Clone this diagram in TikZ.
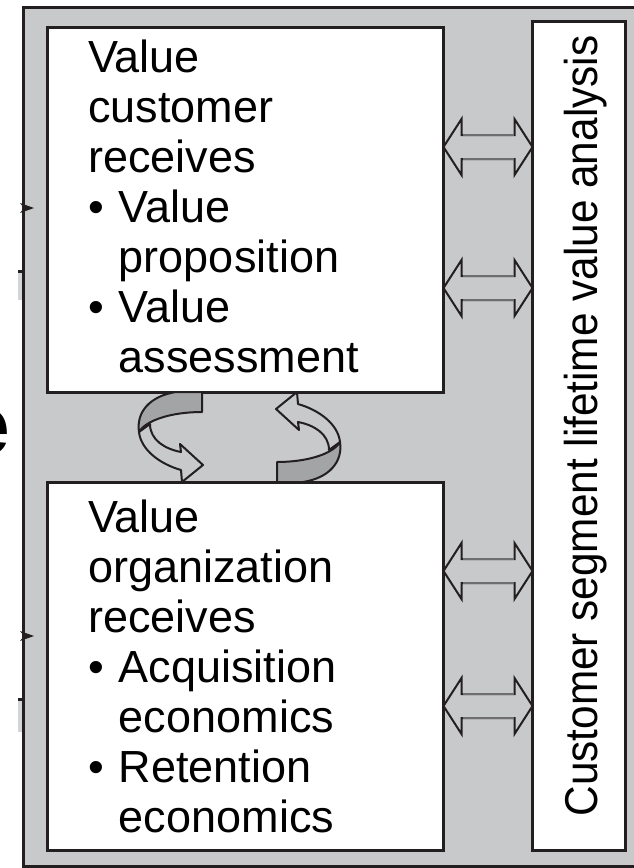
\documentclass[tikz,border=0pt]{standalone}
\usepackage{fontspec}
\setmainfont{Liberation Sans}
\usepackage{graphicx}
\usetikzlibrary{calc}
\definecolor{bg}{HTML}{C8C9CB}
\definecolor{ink}{HTML}{231F20}
\definecolor{ribbon}{HTML}{A3A4A6}
\definecolor{shaft}{HTML}{6E6E70}
\definecolor{frag}{HTML}{D4D5D7}
\newcommand{\hang}{\hphantom{•\ }}
\newcommand{\dblarrow}[3]{%
  \draw[arrowbody] let \p1=(#1.east), \p2=(#2.west), \p3=(0,#3) in
   (\x1,\y3) -- (\x1+18pt,\y3+28pt) -- (\x1+18pt,\y3+12pt) -- (\x2-18pt,\y3+12pt)
   -- (\x2-18pt,\y3+28pt) -- (\x2,\y3) -- (\x2-18pt,\y3-28pt) -- (\x2-18pt,\y3-12pt)
   -- (\x1+18pt,\y3-12pt) -- (\x1+18pt,\y3-28pt) -- cycle;
  \draw[shaftline] let \p1=(#1.east), \p2=(#2.west), \p3=(0,#3) in
   (\x1+19pt,\y3+12pt) -- (\x2-19pt,\y3+12pt)
   (\x1+19pt,\y3-12pt) -- (\x2-19pt,\y3-12pt);}
\newcommand{\cyclearrow}{%
  \draw[curlline, fill=bg] (139,432) .. controls (141,450) and (160,464) .. (181,470)
    -- (182,482) -- (203,465) -- (180,444) -- (181,452)
    .. controls (165,449) and (150,440) .. (150,424) -- cycle;
  \draw[curlline, fill=ribbon] (176,392) -- (202,392) -- (202,412)
    .. controls (172,412) and (146,420) .. (139,432)
    .. controls (136,412) and (150,396) .. (176,392) -- cycle;}
\begin{document}
\begin{tikzpicture}[x=1pt,y=-1pt,
  frame/.style={draw=ink, line width=3pt},
  box/.style={frame, fill=white, inner sep=0pt, outer sep=0pt},
  txt/.style={inner sep=0pt, align=left, anchor=base west, text width=340pt,
    font=\fontsize{45}{50}\selectfont},
  arrowbody/.style={draw=ink, fill=bg, line width=2pt, line join=miter},
  shaftline/.style={draw=shaft, line width=2.5pt},
  curlline/.style={draw=ink, line width=2pt, line join=round}]
\clip (0,0) rectangle (634,868);
\fill[white] (0,0) rectangle (634,868);
% fragments of the neighbouring figure at the left edge
\node[inner sep=0pt, anchor=base east, font=\bfseries\fontsize{84}{84}\selectfont] (frage) at (10,454) {e};
\fill[frag] (18,273) rectangle (22,300);
\fill[ink] (18,270) rectangle (22,273);
\fill[frag] (18,701) rectangle (22,732);
\fill[ink] (18,698) rectangle (22,701);
% outer frame
\draw[frame, fill=bg] (23.5,7.5) rectangle (645,866.5);
\fill[ink] (20,203) -- (34,208) -- (20,213) -- (24,208) -- cycle;
\fill[ink] (20,631) -- (34,636) -- (20,641) -- (24,636) -- cycle;
% boxes
\node[box, minimum width=396pt, minimum height=364.5pt] (topbox) at (245.5,209.75) {};
\node[box, minimum width=396pt, minimum height=367.5pt] (botbox) at (245.5,666.25) {};
\node[box, minimum width=92.5pt, minimum height=829pt] (rbox) at (578.75,435.5) {};
% texts
\node[txt] (toptext) at (88,72) {Value\\customer\\receives\\• Value\\\hang proposition\\• Value\\\hang assessment};
\node[txt] (bottext) at (88,532) {Value\\organization\\receives\\• Acquisition\\\hang economics\\• Retention\\\hang economics};
\node[inner sep=0pt, rotate=90, anchor=base, font=\fontsize{46}{46}\selectfont] (rtext) at (597,426)
  {\scalebox{0.92}[1]{Customer segment lifetime value analysis}};
% double arrows
\dblarrow{topbox}{rbox}{147}
\dblarrow{topbox}{rbox}{288}
\dblarrow{botbox}{rbox}{571}
\dblarrow{botbox}{rbox}{706}
% cycle arrows
\cyclearrow
\begin{scope}[rotate around={180:(239.5,437)}]
\cyclearrow
\end{scope}
\end{tikzpicture}
\end{document}
